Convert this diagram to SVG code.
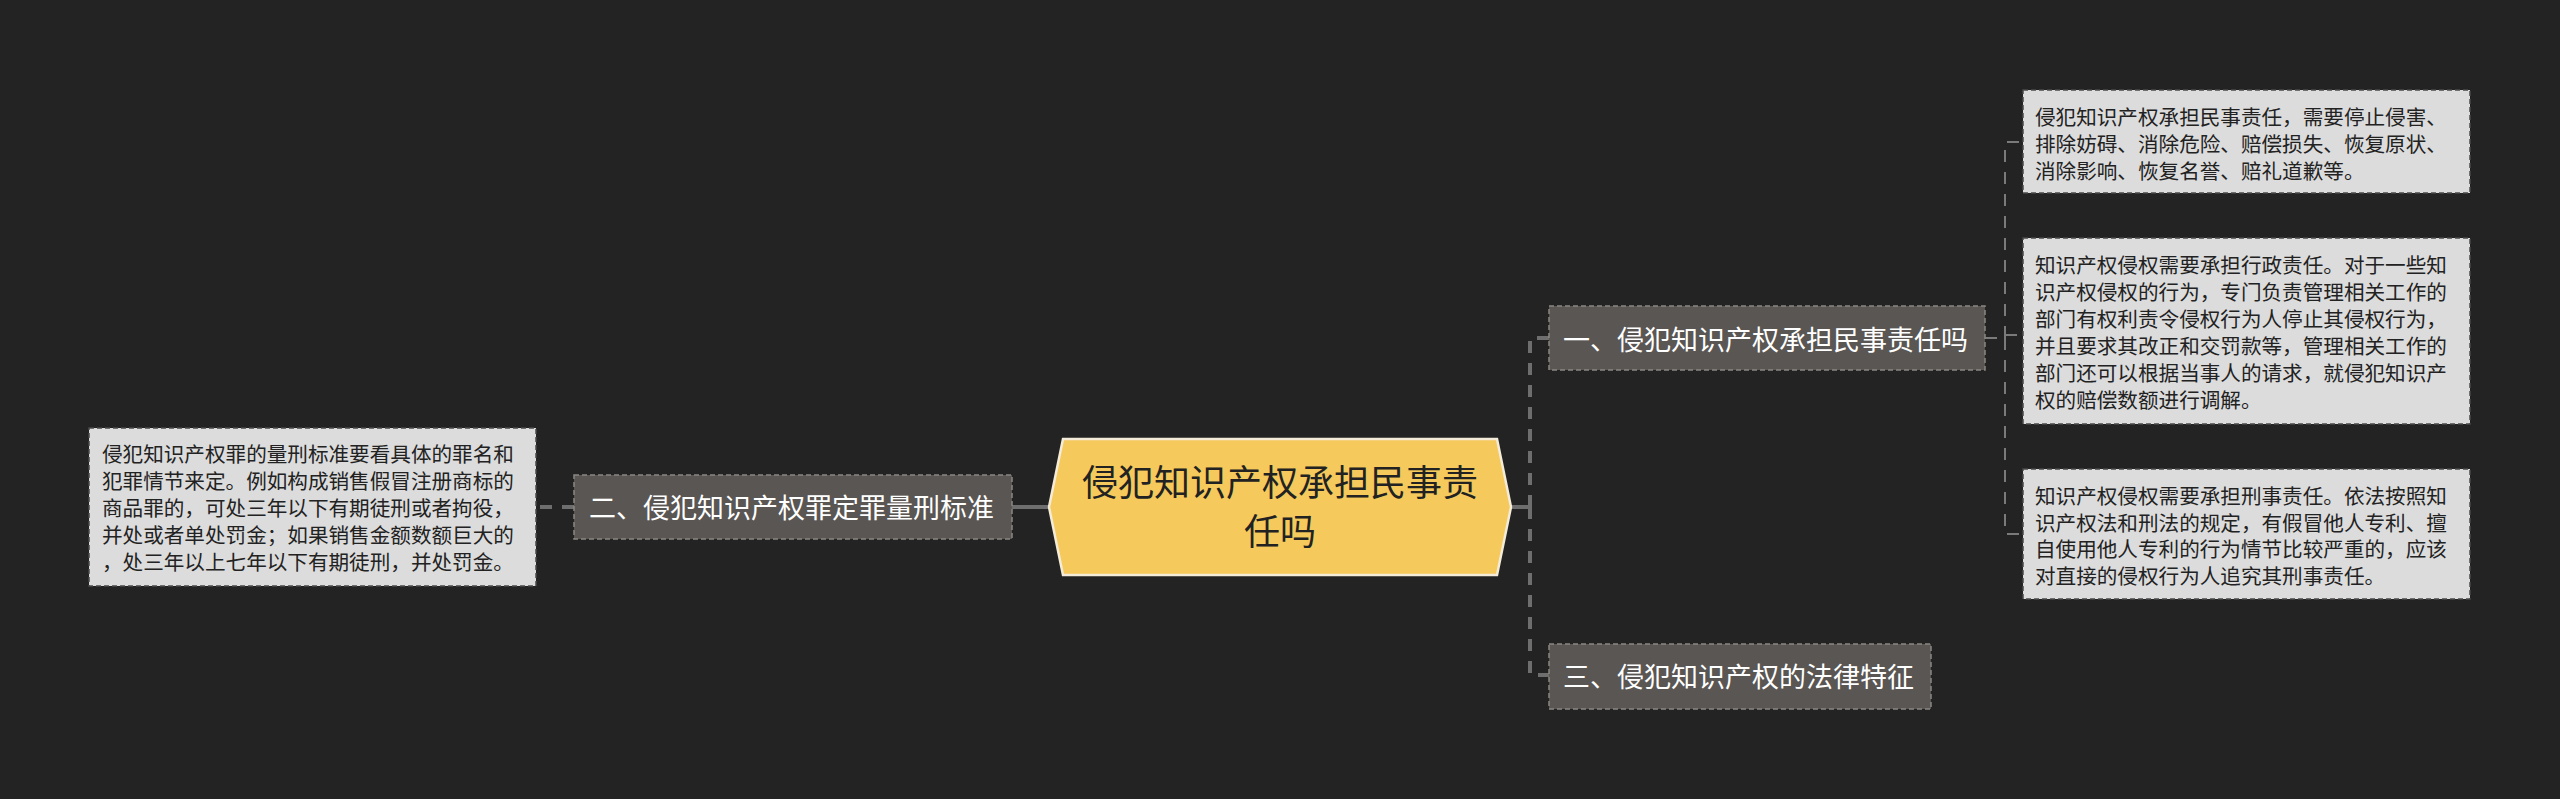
<svg xmlns="http://www.w3.org/2000/svg" width="2560" height="799" viewBox="0 0 2560 799">
<style>
.cjk{font-family:"Noto Sans CJK SC","Noto Sans",sans-serif;}
.sub rect{fill:#5a5653;stroke:#8a8683;stroke-width:1.5;stroke-dasharray:5 3;}
.sub text{fill:#ffffff;font-size:27px;}
.leaf rect{fill:#dcdcdc;stroke:#4a4a4a;stroke-width:1.5;stroke-dasharray:5 3;}
.leaf text{fill:#222222;font-size:20.6px;}
.main{stroke:#6e6e6e;stroke-width:4;fill:none;}
.dash{stroke:#6e6e6e;stroke-width:4;fill:none;stroke-dasharray:12 10;}
.thin{stroke:#7a7a7a;stroke-width:2;fill:none;stroke-dasharray:12 10;}
</style>
<rect width="2560" height="799" fill="#232323"/>
<g id="connectors">
<line class="main" x1="1511" y1="507" x2="1530" y2="507"/>
<path class="dash" d="M1530 507 V338 H1549"/>
<path class="dash" d="M1530 507 V675 H1549"/>
<line class="main" x1="1049" y1="507" x2="1012" y2="507"/>
<line class="dash" x1="574" y1="507" x2="536" y2="507"/>
<path class="thin" d="M1985 338 H2005"/>
<path class="thin" d="M2005 338 V142 H2023"/>
<path class="thin" d="M2005 338 V534 H2023"/>
<path class="thin" d="M2005 335 H2023"/>
</g>
<g id="center">
<polygon points="1049,507 1063,439 1497,439 1511,507 1497,575 1063,575" fill="#f5c95b" stroke="#f4ecd8" stroke-width="2.5"/>
<text class="cjk" x="1280" y="496" text-anchor="middle" font-size="36" fill="#222222">侵犯知识产权承担民事责</text>
<text class="cjk" x="1280" y="545" text-anchor="middle" font-size="36" fill="#222222">任吗</text>
</g>
<g id="node1" class="sub">
<rect x="1549" y="306" width="436" height="64"/>
<text class="cjk" x="1563" y="350">一、侵犯知识产权承担民事责任吗</text>
</g>
<g id="node2" class="sub">
<rect x="574" y="475" width="438" height="64"/>
<text class="cjk" x="589" y="518">二、侵犯知识产权罪定罪量刑标准</text>
</g>
<g id="node3" class="sub">
<rect x="1549" y="644" width="382" height="65"/>
<text class="cjk" x="1563" y="687">三、侵犯知识产权的法律特征</text>
</g>
<g id="leaf-left" class="leaf">
<rect x="89" y="428" width="447" height="158"/>
<text class="cjk" x="102" y="462">侵犯知识产权罪的量刑标准要看具体的罪名和</text>
<text class="cjk" x="102" y="489">犯罪情节来定。例如构成销售假冒注册商标的</text>
<text class="cjk" x="102" y="516">商品罪的，可处三年以下有期徒刑或者拘役，</text>
<text class="cjk" x="102" y="543">并处或者单处罚金；如果销售金额数额巨大的</text>
<text class="cjk" x="102" y="570">，处三年以上七年以下有期徒刑，并处罚金。</text>
</g>
<g id="leaf1" class="leaf">
<rect x="2023" y="90" width="447" height="103"/>
<text class="cjk" x="2035" y="125">侵犯知识产权承担民事责任，需要停止侵害、</text>
<text class="cjk" x="2035" y="152">排除妨碍、消除危险、赔偿损失、恢复原状、</text>
<text class="cjk" x="2035" y="179">消除影响、恢复名誉、赔礼道歉等。</text>
</g>
<g id="leaf2" class="leaf">
<rect x="2023" y="238" width="447" height="186"/>
<text class="cjk" x="2035" y="273">知识产权侵权需要承担行政责任。对于一些知</text>
<text class="cjk" x="2035" y="300">识产权侵权的行为，专门负责管理相关工作的</text>
<text class="cjk" x="2035" y="327">部门有权利责令侵权行为人停止其侵权行为，</text>
<text class="cjk" x="2035" y="354">并且要求其改正和交罚款等，管理相关工作的</text>
<text class="cjk" x="2035" y="381">部门还可以根据当事人的请求，就侵犯知识产</text>
<text class="cjk" x="2035" y="408">权的赔偿数额进行调解。</text>
</g>
<g id="leaf3" class="leaf">
<rect x="2023" y="469" width="447" height="130"/>
<text class="cjk" x="2035" y="504">知识产权侵权需要承担刑事责任。依法按照知</text>
<text class="cjk" x="2035" y="531">识产权法和刑法的规定，有假冒他人专利、擅</text>
<text class="cjk" x="2035" y="557">自使用他人专利的行为情节比较严重的，应该</text>
<text class="cjk" x="2035" y="584">对直接的侵权行为人追究其刑事责任。</text>
</g>
</svg>
